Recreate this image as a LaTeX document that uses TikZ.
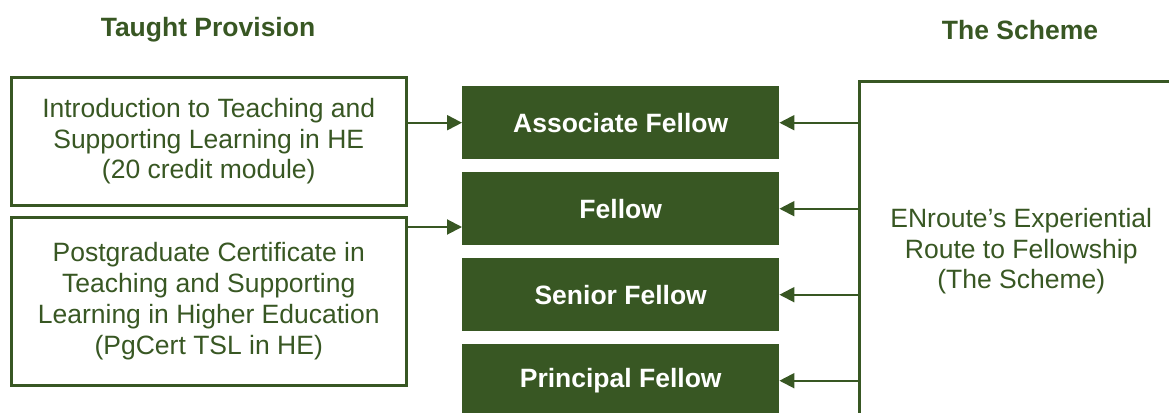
\documentclass[tikz,border=0pt]{standalone}
\usepackage{fontspec}
\setmainfont{Liberation Sans}
\usetikzlibrary{arrows.meta}
\definecolor{dg}{HTML}{385723}
\tikzset{
  txt/.style={font=\fontsize{26.5}{30.8}\selectfont, text=dg, align=center},
  outbox/.style={txt, draw=dg, line width=2.5pt, inner sep=0pt, anchor=north west},
  level/.style={fill=dg, text=white, font=\fontsize{26.5}{30.8}\selectfont\bfseries, minimum width=317pt, minimum height=73pt, inner sep=0pt, anchor=north west},
  head/.style={txt, font=\fontsize{26.5}{30.8}\selectfont\bfseries},
  arr/.style={draw=dg, line width=2pt, -{Triangle[length=15pt,width=15pt]}}
}
\begin{document}
\begin{tikzpicture}[x=1pt,y=-1pt]
\useasboundingbox (0,0) rectangle (1169,412);
\clip (0,0) rectangle (1169,412);
\node[head] (h1) at (208,30) {Taught Provision};
\node[head] (h2) at (1020,30) {The Scheme};
\node[outbox, minimum width=395pt, minimum height=128pt] (lb1) at (10,76)
  {Introduction to Teaching and\\Supporting Learning in HE\\(20 credit module)};
\node[outbox, minimum width=395pt, minimum height=168pt] (lb2) at (10,216)
  {Postgraduate Certificate in\\Teaching and Supporting\\Learning in Higher Education\\(PgCert TSL in HE)};
\node[outbox, minimum width=324pt, minimum height=340pt] (rb) at (858,80)
  {ENroute's Experiential\\Route to Fellowship\\(The Scheme)};
\node[level] (af) at (462,86) {Associate Fellow};
\node[level] (fe) at (462,172) {Fellow};
\node[level] (sf) at (462,258) {Senior Fellow};
\node[level] (pf) at (462,344) {Principal Fellow};
\draw[arr] (lb1.east |- af.west) -- (af.west);
\draw[arr] ([yshift=-11pt]lb2.north east) coordinate (a2) -- (a2 -| fe.west);
\foreach \n in {af,fe,sf,pf}{
  \draw[arr] (rb.west |- \n.east) -- (\n.east);
}
\end{tikzpicture}
\end{document}
